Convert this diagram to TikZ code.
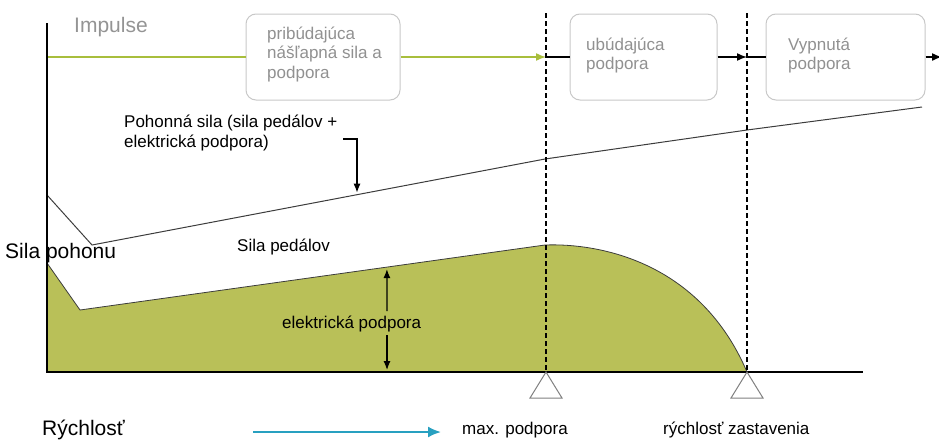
\documentclass[tikz,border=0pt]{standalone}
\usepackage{fontspec}
\setmainfont{Liberation Sans}
\usepackage{tikz}
\usetikzlibrary{positioning}
\usetikzlibrary{arrows.meta}

\definecolor{assistgreen}{RGB}{185,192,88}
\definecolor{impulsegreen}{RGB}{168,190,60}
\definecolor{speedblue}{RGB}{40,160,192}
\definecolor{phasegray}{RGB}{200,200,200}
\definecolor{phasetext}{RGB}{145,145,145}
\definecolor{curvegray}{RGB}{60,60,60}

\newcommand{\diagtext}{\fontsize{17}{19.5}\selectfont}
\newcommand{\diagbig}{\fontsize{21}{24}\selectfont}

\begin{document}
\begin{tikzpicture}
      [x=1pt,y=-1pt,
       phase/.style={draw=phasegray,fill=white,rounded corners=10pt,line width=1pt,minimum height=86pt},
       phaselabel/.style={text=phasetext,font=\diagtext,align=left,inner sep=0pt,anchor=base west},
       lbl/.style={font=\diagtext,inner sep=0pt,anchor=base west},
       biglbl/.style={font=\diagbig,inner sep=0pt,anchor=base west},
       curve/.style={draw=curvegray,line width=1pt},
       flow/.style={line width=1.5pt,-{Latex[length=10pt,width=8pt]}},
       pointer/.style={line width=1.2pt,-{Latex[length=9pt,width=7pt]}},
       marker/.style={draw=black!50,line width=1pt}]
    \useasboundingbox (0,0) rectangle (939,439);

    % phases (multi-line labels sit on their last baseline)
    \node[phase,minimum width=154pt] (P1) at (323,57) {};
    \node[phase,minimum width=147pt] (P2) at (643.5,57) {};
    \node[phase,minimum width=159pt] (P3) at (845.5,57) {};
    \node[phaselabel] (P1t) at (267,78) {pribúdajúca\\nášľapná sila a\\podpora};
    \node[phaselabel] (P2t) at (586,69.5) {ubúdajúca\\podpora};
    \node[phaselabel] (P3t) at (788,69.5) {Vypnutá\\podpora};

    \coordinate (I0) at (47,57);
    \coordinate (M1) at (546,57);
    \coordinate (M2) at (747,57);
    \coordinate (I1) at (942,57);
    \draw[impulsegreen,line width=1.5pt] (I0) -- (P1.west);
    \draw[impulsegreen,flow] (P1.east) -- (M1);
    \draw[line width=1.5pt] (M1) -- (P2.west) (M2) -- (P3.west);
    \draw[flow] (P2.east) -- (M2);
    \draw[flow] (P3.east) -- (I1);

    % electric support area
    \coordinate (S0) at (47,263);
    \coordinate (S1) at (80,310);
    \coordinate (S2) at (545,245);
    \coordinate (Vmax) at (546,372);
    \coordinate (Vstop) at (747,372);
    \filldraw[fill=assistgreen,draw=curvegray,line width=0.8pt]
      (S0) -- (S1) -- (S2) .. controls (600,243) and (700,262) .. (Vstop) -- (47,372) -- cycle;

    % drive force
    \coordinate (D0) at (47,195);
    \coordinate (D1) at (92,245);
    \coordinate (D2) at (545,159);
    \coordinate (D3) at (747,130);
    \coordinate (D4) at (922,107);
    \draw[curve] (D0) -- (D1) -- (D2) -- (D3) -- (D4);
    \path (D1) -- (D2) coordinate[pos=0.585] (Dhit);
    \path (S1) -- (S2) coordinate[pos=0.66] (Shit);

    % axes and limits
    \draw[line width=1.5pt] (47,23) -- (47,372) -- (863,372);
    \draw[dashed,line width=1.2pt,dash pattern=on 5pt off 3pt] (546,13) -- (Vmax);
    \draw[dashed,line width=1.2pt,dash pattern=on 5pt off 3pt] (747,13) -- (Vstop);
    \draw[marker] (Vmax) -- ++(-16,26) -- ++(32,0) -- cycle;
    \draw[marker] (Vstop) -- ++(-16,26) -- ++(32,0) -- cycle;

    % labels
    \node[biglbl,text=black!42] (imp) at (74,32) {Impulse};
    \node[biglbl] (force) at (5,258) {Sila pohonu};
    \node[biglbl] (speed) at (42,435) {Rýchlosť};
    \node[lbl,align=left] (drive) at (124,147) {Pohonná sila (sila pedálov +\\elektrická podpora)};
    \node[lbl] (pedal) at (237,251) {Sila pedálov};
    \node[lbl] (elec) at (282,328) {elektrická podpora};
    \node[lbl] (maxs) at (462,434) {max. podpora};
    \node[lbl] (stops) at (663,434) {rýchlosť zastavenia};

    \coordinate (hook) at (343,139);
    \draw[pointer,shorten >=2pt] (hook) -| (Dhit);
    \coordinate (Eup) at (387,311);
    \coordinate (Edown) at (387,335);
    \draw[pointer,shorten >=2pt] (Eup) -- (Shit);
    \draw[pointer] (Edown) -- (387,370);

    \coordinate (V0) at (253,432);
    \coordinate (V1) at (441,432);
    \draw[speedblue,line width=2pt,-{Latex[length=13pt,width=11pt]}] (V0) -- (V1);
\end{tikzpicture}
\end{document}
